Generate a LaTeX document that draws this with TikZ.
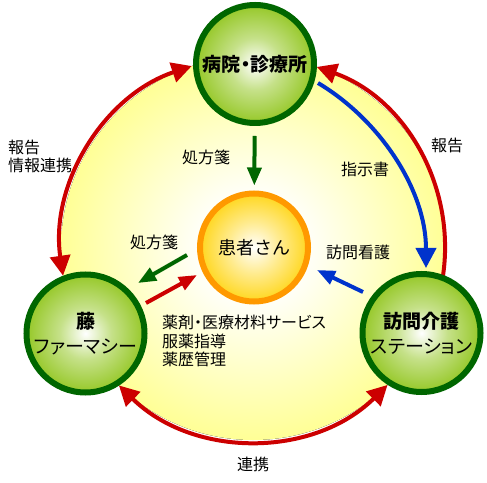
\documentclass[tikz,border=0pt]{standalone}
\usepackage{fontspec}
\setmainfont{Noto Sans CJK JP}
\usetikzlibrary{arrows.meta,calc}
\definecolor{dgreen}{RGB}{0,102,0}
\definecolor{lgreen}{RGB}{150,200,40}
\colorlet{mgreen}{white!45!lgreen}
\definecolor{orng}{RGB}{255,153,0}
\definecolor{yel}{RGB}{255,215,30}
\colorlet{myel}{white!50!yel}
\definecolor{pale}{RGB}{255,255,150}
\definecolor{rd}{RGB}{204,0,0}
\definecolor{bl}{RGB}{0,51,204}
\pgfdeclareradialshading{greenball}{\pgfpoint{0bp}{0bp}}{color(0bp)=(white); color(11bp)=(mgreen); color(25bp)=(lgreen); color(50bp)=(lgreen)}
\pgfdeclareradialshading{yelball}{\pgfpoint{0bp}{0bp}}{color(0bp)=(white); color(12bp)=(myel); color(25bp)=(yel); color(50bp)=(yel)}
\pgfdeclareradialshading{bigball}{\pgfpoint{0bp}{0bp}}{color(0bp)=(white); color(6bp)=(white); color(25bp)=(pale); color(50bp)=(pale)}
\newcommand{\propw}{\addfontfeatures{RawFeature=+palt}}
\tikzset{
  outerball/.style={circle, draw=dgreen, line width=6pt, minimum size=118pt, inner sep=0pt,
    align=center, shade, shading=greenball, font=\fontsize{19}{25}\selectfont\bfseries\propw},
  patball/.style={circle, draw=orng, line width=6pt, minimum size=108pt, inner sep=0pt,
    align=center, shade, shading=yelball, font=\fontsize{18}{25}\selectfont},
  lab/.style={inner sep=0pt, font=\fontsize{16}{18.5}\selectfont},
  redarc/.style={draw=rd, line width=4pt},
  bigtip/.style={-{Triangle[length=20pt,width=20pt]}},
  bigtips/.style={{Triangle[length=20pt,width=20pt]}-{Triangle[length=20pt,width=20pt]}},
  smallarrow/.style={line width=4pt, -{Triangle[length=18pt,width=14pt]}}
}
\begin{document}
\begin{tikzpicture}[x=1pt,y=1pt]
\useasboundingbox (0,0) rectangle (487,482);
\coordinate (C) at (253,234);
\fill[shading=bigball] (C) circle[radius=192];
% red arcs on the big circle
\coordinate (aL1) at ($(C)+(188.3:192)$);
\coordinate (aR1) at ($(C)+(70.6:192)$);
\coordinate (aB1) at ($(C)+(225.7:192)$);
\draw[redarc, bigtips] (aL1) arc[start angle=188.3, end angle=108.6, radius=192];
\draw[redarc, {Triangle[length=20pt,width=20pt]}-] (aR1) arc[start angle=70.6, end angle=-12, radius=192];
\draw[redarc, bigtips] (aB1) arc[start angle=225.7, end angle=314.5, radius=192];
% nodes
\node[outerball] (hosp) at (255,418) {病院・診療所};
\node[outerball] (pharm) at (85.5,148.5) {藤\\{\mdseries ファーマシー}};
\node[outerball] (stat) at (421.5,149) {訪問介護\\{\mdseries ステーション}};
\node[patball] (pat) at (254,234.5) {患者さん};
% blue curved arrow
\coordinate (bS) at (318,399);
\coordinate (bE) at (426,214);
\draw[draw=bl, line width=4pt, bigtip] (bS) .. controls (380,362) and (426,292) .. (bE);
% straight arrows
\draw[smallarrow, draw=dgreen, fill=dgreen, shorten <=10pt, shorten >=5pt] (hosp) -- (pat);
\coordinate (g1) at (187,227); \coordinate (g2) at (138,199);
\draw[smallarrow, draw=dgreen, fill=dgreen] (g1) -- (g2);
\coordinate (r1) at (146,179); \coordinate (r2) at (197,207);
\draw[smallarrow, draw=rd, fill=rd] (r1) -- (r2);
\coordinate (u1) at (363,190); \coordinate (u2) at (317,212);
\draw[smallarrow, draw=bl, fill=bl] (u1) -- (u2);
% labels
\node[lab] (l1) at (206,325) {処方箋};
\node[lab] (l2) at (154,240) {処方箋};
\node[lab] (l3) at (365,313) {指示書};
\node[lab] (l4) at (358,230) {訪問看護};
\node[lab] (l5) at (447,337) {報告};
\node[lab, anchor=west, align=left, font=\fontsize{16}{18}\selectfont] (l6) at (8,325.5) {報告\\情報連携};
\node[lab] (l7) at (253,18) {連携};
\node[lab, anchor=west, align=left, font=\fontsize{16}{18.5}\selectfont\propw] (l8) at (162,141) {薬剤・医療材料サービス\\服薬指導\\薬歴管理};
\end{tikzpicture}
\end{document}
